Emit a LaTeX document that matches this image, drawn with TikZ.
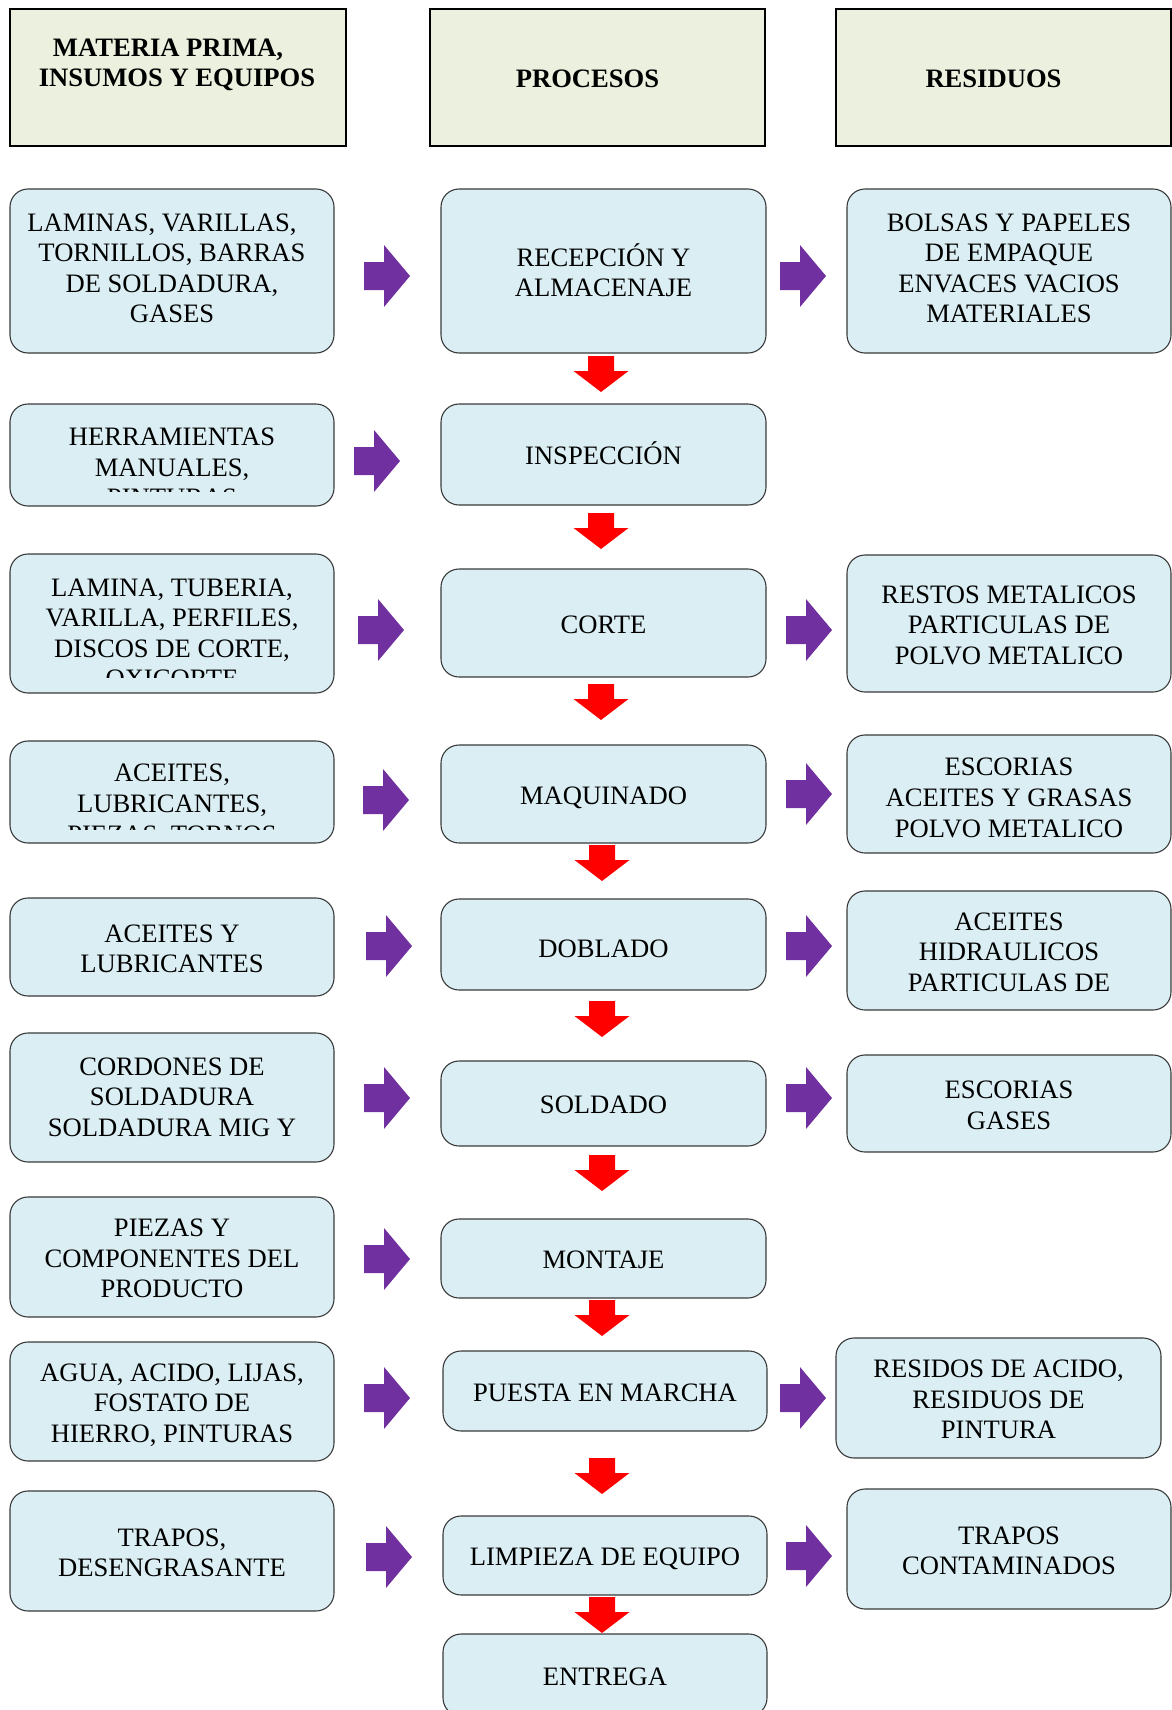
\documentclass[tikz,border=0pt]{standalone}
\usepackage{fontspec}
\setmainfont{Liberation Serif}
\definecolor{boxfill}{HTML}{DAEEF3}
\definecolor{headfill}{HTML}{EBF1DE}
\definecolor{boxline}{HTML}{3A3A3A}
\definecolor{sidepurple}{HTML}{7030A0}
\definecolor{downred}{HTML}{FF0000}
\newcommand\boxfont{\fontsize{26.6}{30.6}\selectfont}
% fixed first-line height and last-line depth, so every text block sits alike
\newcommand\evenlines[1]{\rule{0pt}{27pt}#1\rule[-6.4pt]{0pt}{6.4pt}}
% extra depth or height to nudge a block up or down inside its box
\newcommand\nudgeup[1]{\rule[-#1]{0pt}{#1}}
\newcommand\nudgedown[1]{\rule{0pt}{#1}}
\tikzset{
  every node/.style={inner sep=0pt, outer sep=0pt},
  pbox/.style={draw=boxline, fill=boxfill, line width=1.1pt, rounded corners=18pt, align=center, font=\boxfont},
  hbox/.style={draw=black, fill=headfill, line width=1.2pt, align=center, font=\boxfont\bfseries},
  txt/.style={align=center, font=\boxfont},
  htxt/.style={align=center, font=\boxfont\bfseries},
  purp/.style={fill=sidepurple},
  redarr/.style={fill=downred},
}
% box from its corners: style, name, x1, y1, x2, y2, text
\newcommand\flowbox[7]{\node[#1, minimum width={#5-#3}, minimum height={#6-#4}] (#2) at ({(#3+#5)/2},{(#4+#6)/2}) {\evenlines{#7}};}
% purple block arrow pointing right: shaft start x, centre y
\newcommand\sidearrow[2]{\fill[purp] (#1,{#2-14}) -- ({#1+20},{#2-14}) -- ({#1+20},{#2-31}) -- ({#1+46},#2) -- ({#1+20},{#2+31}) -- ({#1+20},{#2+14}) -- (#1,{#2+14}) -- cycle;}
% red block arrow pointing down: centre x, top y
\newcommand\droparrow[2]{\fill[redarr] ({#1-13},#2) -- ({#1+13},#2) -- ({#1+13},{#2+15}) -- ({#1+27.5},{#2+15}) -- (#1,{#2+36}) -- ({#1-27.5},{#2+15}) -- ({#1-13},{#2+15}) -- cycle;}
\begin{document}
\begin{tikzpicture}[x=1pt, y=-1pt]
\useasboundingbox (0,0) rectangle (1172,1710);

% column headers
\node[hbox, minimum width=336, minimum height=137] (hmat) at (178,77.5) {};
\node[htxt] (hmattxt) at (177,61) {\evenlines{MATERIA PRIMA,\hspace*{18pt}\\INSUMOS Y EQUIPOS}};
\flowbox{hbox}{hpro}{430}{9}{765}{146}{PROCESOS\hspace*{20pt}}
\flowbox{hbox}{hres}{836}{9}{1171}{146}{RESIDUOS\hspace*{20pt}}

% row 1
\flowbox{pbox}{l1}{10}{189}{334}{353}{LAMINAS, VARILLAS,\hspace*{20pt}\\TORNILLOS, BARRAS\\DE SOLDADURA,\\GASES\nudgeup{15.2pt}}
\flowbox{pbox}{m1}{441}{189}{766}{353}{RECEPCIÓN Y\\ALMACENAJE}
\flowbox{pbox}{r1}{847}{189}{1171}{353}{BOLSAS Y PAPELES\\DE EMPAQUE\\ENVACES VACIOS\\MATERIALES\nudgeup{15.2pt}}

% row 2
\node[pbox, minimum width=324, minimum height=102] (l2) at (172,455) {};
\begin{scope}
  \clip (10,404) rectangle (334,491);
  \node[txt] (l2txt) at (172,466) {\evenlines{HERRAMIENTAS\\MANUALES,\\PINTURAS}};
\end{scope}
\flowbox{pbox}{m2}{441}{404}{766}{505}{INSPECCIÓN}

% row 3
\node[pbox, minimum width=324, minimum height=139] (l3) at (172,623.5) {};
\begin{scope}
  \clip (10,554) rectangle (334,677);
  \node[txt] (l3txt) at (172,631.7) {\evenlines{LAMINA, TUBERIA,\\VARILLA, PERFILES,\\DISCOS DE CORTE,\\OXICORTE}};
\end{scope}
\flowbox{pbox}{m3}{441}{569}{766}{677}{CORTE}
\flowbox{pbox}{r3}{847}{555}{1171}{692}{RESTOS METALICOS\\PARTICULAS DE\\POLVO METALICO}

% row 4
\node[pbox, minimum width=324, minimum height=102] (l4) at (172,792) {};
\begin{scope}
  \clip (10,741) rectangle (334,829);
  \node[txt] (l4txt) at (172,802.2) {\evenlines{ACEITES,\\LUBRICANTES,\\PIEZAS, TORNOS}};
\end{scope}
\flowbox{pbox}{m4}{441}{745}{766}{843}{MAQUINADO}
\flowbox{pbox}{r4}{847}{735}{1171}{853}{\nudgedown{31.4pt}ESCORIAS\\ACEITES Y GRASAS\\POLVO METALICO}

% row 5
\flowbox{pbox}{l5}{10}{898}{334}{996}{ACEITES Y\\LUBRICANTES}
\flowbox{pbox}{m5}{441}{899}{766}{990}{\nudgedown{31.4pt}DOBLADO}
\flowbox{pbox}{r5}{847}{891}{1171}{1010}{ACEITES\\HIDRAULICOS\\PARTICULAS DE}

% row 6
\flowbox{pbox}{l6}{10}{1033}{334}{1162}{CORDONES DE\\SOLDADURA\\SOLDADURA MIG Y\nudgeup{10.8pt}}
\flowbox{pbox}{m6}{441}{1061}{766}{1146}{SOLDADO}
\flowbox{pbox}{r6}{847}{1055}{1171}{1152}{ESCORIAS\\GASES}

% row 7
\flowbox{pbox}{l7}{10}{1197}{334}{1317}{PIEZAS Y\\COMPONENTES DEL\\PRODUCTO}
\flowbox{pbox}{m7}{441}{1219}{766}{1298}{MONTAJE}

% row 8
\flowbox{pbox}{l8}{10}{1342}{334}{1461}{AGUA, ACIDO, LIJAS,\\FOSTATO DE\\HIERRO, PINTURAS}
\flowbox{pbox}{m8}{443}{1351}{767}{1431}{PUESTA EN MARCHA}
\flowbox{pbox}{r8}{836}{1338}{1161}{1458}{RESIDOS DE ACIDO,\\RESIDUOS DE\\PINTURA}

% row 9
\flowbox{pbox}{l9}{10}{1491}{334}{1611}{TRAPOS,\\DESENGRASANTE}
\flowbox{pbox}{m9}{443}{1516}{767}{1595}{LIMPIEZA DE EQUIPO}
\flowbox{pbox}{r9}{847}{1489}{1171}{1609}{TRAPOS\\CONTAMINADOS}

% last step
\flowbox{pbox}{m10}{443}{1634}{767}{1716}{ENTREGA}

% inputs and residues
\sidearrow{364}{276}  \sidearrow{780}{276}
\sidearrow{354}{461}
\sidearrow{358}{630}  \sidearrow{786}{630}
\sidearrow{363}{800}  \sidearrow{786}{794}
\sidearrow{366}{946}  \sidearrow{786}{946}
\sidearrow{364}{1098} \sidearrow{786}{1098}
\sidearrow{364}{1259}
\sidearrow{364}{1398} \sidearrow{780}{1398}
\sidearrow{366}{1557} \sidearrow{786}{1556}

% process sequence
\droparrow{601}{356}
\droparrow{601}{513}
\droparrow{601}{684}
\droparrow{602}{845}
\droparrow{602}{1001}
\droparrow{602}{1155}
\droparrow{602}{1300}
\droparrow{602}{1458}
\droparrow{602}{1597}
\end{tikzpicture}
\end{document}
